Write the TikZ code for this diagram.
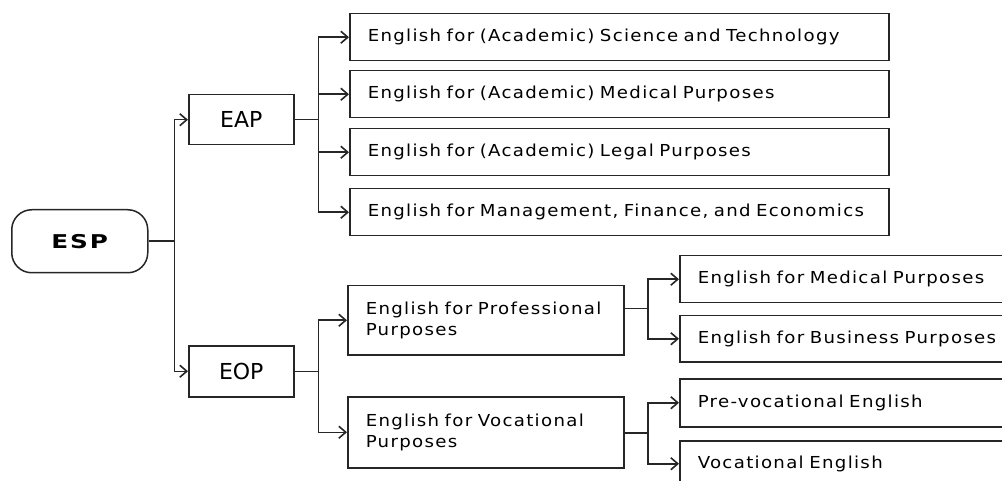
\documentclass[tikz,border=0pt]{standalone}
\usepackage{fontspec}
\setmainfont{DejaVu Sans}
\newfontfamily\regfont[FakeStretch=1.1,LetterSpace=8]{DejaVu Sans}
\newfontfamily\midfont{DejaVu Sans}
\newfontfamily\espfont[FakeStretch=1.3,LetterSpace=10]{DejaVu Sans Bold}
\usetikzlibrary{arrows.meta}
\definecolor{linec}{HTML}{262626}
\begin{document}
\begin{tikzpicture}[x=1pt,y=-1pt,line width=1.5pt,
  box/.style={draw=linec,line width=1.5pt,rectangle,anchor=north west,inner ysep=0pt},
  tbox/.style={box,inner xsep=18pt,align=left,font=\regfont\fontsize{16.5}{21.5}\selectfont},
  mbox/.style={box,inner xsep=0pt,align=center,font=\midfont\fontsize{22}{26}\selectfont},
  conn/.style={draw=linec,line width=1.5pt},
  arr/.style={conn,-{Straight Barb[length=7pt,width=12pt,line width=1.6pt]}}]
\useasboundingbox (0,0) rectangle (1002,481);
\clip (0,0) rectangle (1002,481);
% root
\node[box,rounded corners=20pt,minimum width=136pt,minimum height=63pt,inner xsep=0pt,
  font=\espfont\fontsize{19}{21}\selectfont] (esp) at (11,209) {ESP};
% level 1
\node[mbox,minimum width=105pt,minimum height=50pt] (eap) at (188,94) {EAP};
\node[mbox,minimum width=105pt,minimum height=51pt] (eop) at (188,345) {EOP};
% EAP children
\node[tbox,text width=503pt,minimum height=47pt] (a1) at (349,13) {English for (Academic) Science and Technology};
\node[tbox,text width=503pt,minimum height=47pt] (a2) at (349,70) {English for (Academic) Medical Purposes};
\node[tbox,text width=503pt,minimum height=47pt] (a3) at (349,128) {English for (Academic) Legal Purposes};
\node[tbox,text width=503pt,minimum height=47pt] (a4) at (349,188) {English for Management, Finance, and Economics};
% EOP children
\node[tbox,text width=240pt,minimum height=69pt] (efpp) at (347,285) {English for Professional\\Purposes};
\node[tbox,text width=240pt,minimum height=71pt] (efvp) at (347,396) {English for Vocational\\Purposes};
% level 3
\node[tbox,text width=304pt,minimum height=47pt] (emp) at (679,255) {English for Medical Purposes};
\node[tbox,text width=304pt,minimum height=46pt] (ebp) at (679,315) {English for Business Purposes};
\node[tbox,text width=304pt,minimum height=48pt] (pve) at (679,378) {Pre-vocational English};
\node[tbox,text width=304pt,minimum height=46pt] (ve) at (679,440) {Vocational English};
% connectors
\path (esp.east) ++(26,0) coordinate (b0);
\draw[conn] (esp.east) -- (b0);
\draw[arr] (b0) |- (eap.west);
\draw[arr] (b0) |- (eop.west);
\draw[conn] (eap.east) -- ++(24,0) coordinate (b1);
\draw[arr] (b1) |- (a1.west);
\draw[arr] (b1) |- (a2.west);
\draw[arr] (b1) |- (a3.west);
\draw[arr] (b1) |- (a4.west);
\draw[conn] (eop.east) -- ++(24,0) coordinate (b2);
\draw[arr] (b2) |- (efpp.west);
\draw[arr] (b2) |- (efvp.west);
\coordinate (b3) at (648,308.5);
\draw[conn] (efpp.east |- b3) -- (b3);
\draw[arr] (b3) |- (emp.west);
\draw[arr] (b3) |- (ebp.west);
\coordinate (b4) at (648,433);
\draw[conn] (efvp.east |- b4) -- (b4);
\draw[arr] (b4) |- (pve.west);
\draw[arr] (b4) |- (ve.west);
\end{tikzpicture}
\end{document}
